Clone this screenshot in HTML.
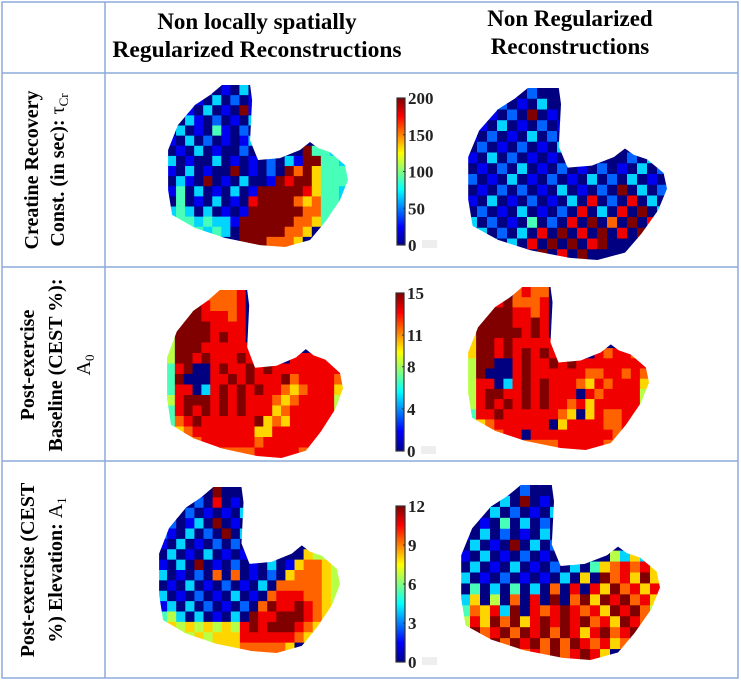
<!DOCTYPE html>
<html><head><meta charset="utf-8">
<style>
html,body{margin:0;padding:0;background:#fff;}
svg{display:block;font-family:"Liberation Serif",serif;}
</style></head>
<body>
<svg id="fig" width="741" height="682" viewBox="0 0 741 682">
  <g stroke="#8eaadb" stroke-width="1.5" fill="none">
    <rect x="2" y="2" width="736" height="676"/>
    <line x1="105" y1="2" x2="105" y2="678"/>
    <line x1="2" y1="73" x2="738" y2="73"/>
    <line x1="2" y1="267" x2="738" y2="267"/>
    <line x1="2" y1="461" x2="738" y2="461"/>
  </g>
  <g font-weight="bold" text-anchor="middle" fill="#000">
    <text x="257" y="29" font-size="23">Non locally spatially</text>
    <text x="257" y="57" font-size="23.5">Regularized Reconstructions</text>
    <text x="570" y="26" font-size="23">Non Regularized</text>
    <text x="570" y="54" font-size="23">Reconstructions</text>
  </g>
  <g font-size="20" text-anchor="middle" fill="#000">
    <text transform="translate(38,170) rotate(-90)" font-weight="bold">Creatine Recovery</text>
    <text transform="translate(64,170) rotate(-90)"><tspan font-weight="bold">Const. (in sec): </tspan>τ<tspan font-size="13" dy="4">Cr</tspan></text>
    <text transform="translate(34,365) rotate(-90)" font-weight="bold">Post-exercise</text>
    <text transform="translate(62,365) rotate(-90)" font-weight="bold">Baseline (CEST %):</text>
    <text transform="translate(90,365) rotate(-90)">A<tspan font-size="13" dy="4">0</tspan></text>
    <text transform="translate(34,570) rotate(-90)" font-weight="bold">Post-exercise (CEST</text>
    <text transform="translate(62,570) rotate(-90)"><tspan font-weight="bold">%) Elevation: </tspan>A<tspan font-size="13" dy="4">1</tspan></text>
  </g>
  <defs>
    <linearGradient id="jet" x1="0" y1="1" x2="0" y2="0">
      <stop offset="0" stop-color="#00008f"/>
      <stop offset="0.125" stop-color="#0000ff"/>
      <stop offset="0.375" stop-color="#00ffff"/>
      <stop offset="0.625" stop-color="#ffff00"/>
      <stop offset="0.875" stop-color="#ff0000"/>
      <stop offset="1" stop-color="#800000"/>
    </linearGradient>
  </defs>
  <g id="maps"></g>
  <g id="bars"></g>
</svg>
<script>
const NS="http://www.w3.org/2000/svg";
// muscle outline (normalized)
const outlineU=[0.304,0.459,0.47,0.459,0.503,0.624,0.735,0.79,0.834,0.9,0.983,1,0.956,0.873,0.79,0.652,0.514,0.32,0.155,0.028,0.006,0.006,0.061,0.155,0.238];
const outlineV=[0,0,0.093,0.34,0.463,0.451,0.401,0.352,0.389,0.414,0.494,0.586,0.71,0.846,0.957,1,0.988,0.944,0.883,0.802,0.648,0.401,0.247,0.123,0.062];

// heatmap level grids (0-9 levels of colormap)
const tauNonLocal=["00002010300000000000","00010302010000000000","00103010910000000000","00310201030000000000","03010410200000000000","10302010130000000000","01030100203000094433","30100301010203199443","10301009010209796444","03109010300198996444","14030103019999986443","04010301089999767443","34303010199999977444","44434331999999776440","34443430999997760000","04434300999777600000"];
const tauNonReg=["00001020000000000000","00020103000000000000","00102090100000000000","01030102010000000000","10201030200000000000","02010201030000000000","10302010102000002031","01020301020102010302","20103010201030203010","01020201030102090302","10301020103080208030","02010301020803080903","30201040208090709080","03020308090809080900","20303080909089000000","03030809080900000000"];
const a0NonLocal=["99987777800000000000","99998777800000000000","99998887800000000000","69999888800000000000","59999898800000000000","59998888880000000000","59989888988000888888","48900898898988888888","49000889898889788887","48803898989887678886","58999898988876788885","48989898988867888885","47898888889676888886","46788888886688888877","34678888887888888740","33467777778888877000"];
const a0NonReg=["99980787700000000000","99989777800000000000","99999887800000000000","79999889800000000000","69999989800000000000","69989888880000000000","69989898988000878878","59900898898988888888","59000898888887788787","58803898988876878886","58998898988808788885","58989898988786888885","48898888887606877886","46788888806888877877","45678808888888887740","34567777778888877000"];
const a1NonLocal=["00001090000000000000","00102080100000000000","01020101030000000000","12013090100000000000","21030209030000000000","10301020201000000000","03010301010300006555","10309010201030167765","30102070701020677765","01030102010307777765","30102010301078887765","13030201020798898765","45303010309889998765","56565656589899987650","56656566688888876000","45566566677777600000"];
const a1NonReg=["00001020000000000000","00203090100000000000","01030201030000000000","20104030200000000000","10302010300000000000","03010903020000000000","10301020103000053636","03010301020304678786","30102010103060978696","04030403070808697868","36050708090796989786","47683908789878698975","58697968989897869875","69789798979868978960","58697989797987867000","46789878797898600000"];

const tauTicks=[200,150,100,50,0];
const a0Ticks=[15,11,8,4,0];
const a1Ticks=[12,9,6,3,0];
const tauMax=200, a0Max=15, a1Max=12;

function jet(t){
  const c=x=>Math.round(255*Math.max(0,Math.min(1,x)));
  return `rgb(${c(1.5-Math.abs(4*t-3))},${c(1.5-Math.abs(4*t-2))},${c(1.5-Math.abs(4*t-1))})`;
}
const maps=document.getElementById('maps');
function drawMap(grid,bx,by,bw,bh,name){
  const g=document.createElementNS(NS,'g');
  
  
  const cp=document.createElementNS(NS,'clipPath');
  cp.setAttribute('id','clip-'+name);
  const poly=document.createElementNS(NS,'polygon');
  poly.setAttribute('points',outlineU.map((u,i)=>(bx+u*bw).toFixed(1)+','+(by+outlineV[i]*bh).toFixed(1)).join(' '));
  cp.appendChild(poly);g.appendChild(cp);
  const cells=document.createElementNS(NS,'g');
  cells.setAttribute('clip-path','url(#clip-'+name+')');
  const rows=grid.length, cols=grid[0].length;
  const cw=bw/cols, ch=bh/rows;
  grid.forEach((row,r)=>{
    for(let c=0;c<cols;c++){
      const v=+row[c];
      const rect=document.createElementNS(NS,'rect');
      
      
      rect.setAttribute('x',(bx+c*cw).toFixed(2));
      rect.setAttribute('y',(by+r*ch).toFixed(2));
      rect.setAttribute('width',(cw+0.6).toFixed(2));
      rect.setAttribute('height',(ch+0.6).toFixed(2));
      rect.setAttribute('fill',jet(v/9));
      cells.appendChild(rect);
    }
  });
  g.appendChild(cells);
  maps.appendChild(g);
}
drawMap(tauNonLocal,167,85,181,162,'tau-nonlocal-map');
drawMap(tauNonReg,467,88,200,172,'tau-nonregularized-map');
drawMap(a0NonLocal,166,290,177,168,'a0-nonlocal-map');
drawMap(a0NonReg,467,287,182,163,'a0-nonregularized-map');
drawMap(a1NonLocal,158,487,182,166,'a1-nonlocal-map');
drawMap(a1NonReg,460,485,200,175,'a1-nonregularized-map');

const bars=document.getElementById('bars');
function drawBar(ticks,max,x,y,w,h,name){
  const g=document.createElementNS(NS,'g');
  
  
  const r=document.createElementNS(NS,'rect');
  r.setAttribute('x',x);r.setAttribute('y',y);r.setAttribute('width',w);r.setAttribute('height',h);
  r.setAttribute('fill','url(#jet)');r.setAttribute('stroke','#333');r.setAttribute('stroke-width','1.2');
  g.appendChild(r);
  ticks.forEach(t=>{
    const ty=y+h-(t/max)*h;
    const tx=document.createElementNS(NS,'text');
    
    
    tx.setAttribute('x',x+w+3);tx.setAttribute('y',ty+6);
    tx.setAttribute('font-size','17');tx.setAttribute('font-weight','bold');tx.setAttribute('fill','#222');
    tx.textContent=t;
    g.appendChild(tx);
    const tk=document.createElementNS(NS,'line');
    tk.setAttribute('x1',x+w-2);tk.setAttribute('x2',x+w);tk.setAttribute('y1',ty);tk.setAttribute('y2',ty);tk.setAttribute('stroke','#333');
    g.appendChild(tk);
  });
  const sq=document.createElementNS(NS,'rect');
  sq.setAttribute('x',x+w+17);sq.setAttribute('y',y+h-5);sq.setAttribute('width',15);sq.setAttribute('height',8);sq.setAttribute('fill','#eee');
  g.appendChild(sq);
  bars.appendChild(g);
}
drawBar(tauTicks,tauMax,397,98,8,147,'tau-colorbar');
drawBar(a0Ticks,a0Max,396,293,8,158,'a0-colorbar');
drawBar(a1Ticks,a1Max,396,506,9,156,'a1-colorbar');
</script>
</body></html>
